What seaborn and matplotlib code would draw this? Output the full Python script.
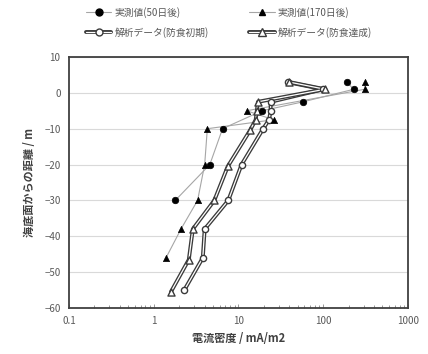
import matplotlib
matplotlib.use("Agg")
import matplotlib.pyplot as plt
import matplotlib.patheffects as pe
from matplotlib.lines import Line2D
import seaborn as sns
import pandas as pd
import numpy as np

sns.set_theme(style="white")
plt.rcParams['font.family'] = ['Noto Sans CJK JP', 'DejaVu Sans']

# Data (current density mA/m2, depth m)
m50_x = [190, 230, 58, 19, 6.5, 4.6, 1.8]
m50_y = [3, 1, -2.5, -5, -10, -20, -30]

m170_x = [310, 310, 12.5, 26, 4.3, 4.0, 3.3, 2.1, 1.4]
m170_y = [3, 1, -5, -7.5, -10, -20, -30, -38, -46]

a_init_x = [38, 100, 24, 24, 23, 19.6, 10.9, 7.6, 4.0, 3.8, 2.3]
a_init_y = [3, 1, -2.5, -5, -7.5, -10, -20, -30, -38, -46, -55]

a_done_x = [40, 105, 17, 16.5, 16, 13.7, 7.5, 5.2, 2.9, 2.6, 1.6]
a_done_y = [3, 1, -2.5, -5, -7.5, -10.5, -20.5, -30, -38, -46.5, -55.5]

labels = ["実測値(50日後)", "実測値(170日後)", "解析データ(防食初期)", "解析データ(防食達成)"]

fig = plt.figure(figsize=(4.28, 3.54), dpi=100)
ax = fig.add_axes([0.161, 0.130, 0.792, 0.709])

gray = "#a6a6a6"
dark = "#3a3a3a"

def line(xs, ys, **kw):
    df = pd.DataFrame({"x": xs, "y": ys})
    sns.lineplot(data=df, x="x", y="y", sort=False, estimator=None, ax=ax, **kw)

# measured series: thin gray lines, black markers
line(m50_x, m50_y, color=gray, lw=0.8, zorder=2)
line(m170_x, m170_y, color=gray, lw=0.8, zorder=2)

# analysis series: double lines
dbl = [pe.Stroke(linewidth=2.8, foreground=dark), pe.Normal()]
line(a_init_x, a_init_y, color="white", lw=0.9, zorder=3, path_effects=dbl)
line(a_done_x, a_done_y, color="white", lw=0.9, zorder=3, path_effects=dbl)

sns.scatterplot(x=a_init_x, y=a_init_y, marker="o", s=20, facecolor="white",
                edgecolor=dark, linewidth=1.0, ax=ax, zorder=4)
sns.scatterplot(x=a_done_x, y=a_done_y, marker="^", s=26, facecolor="white",
                edgecolor=dark, linewidth=1.0, ax=ax, zorder=4)
sns.scatterplot(x=m50_x, y=m50_y, marker="o", s=22, color="black",
                edgecolor="black", linewidth=0.5, ax=ax, zorder=5)
sns.scatterplot(x=m170_x, y=m170_y, marker="^", s=20, color="black",
                edgecolor="black", linewidth=0.5, ax=ax, zorder=5)

ax.set_xscale("log")
ax.set_xlim(0.1, 1000)
ax.set_ylim(-60, 10)
ax.set_yticks(np.arange(-60, 11, 10))
ax.set_xticks([0.1, 1, 10, 100, 1000])
ax.set_xticklabels(["0.1", "1", "10", "100", "1000"])
ax.grid(axis="y", color="#d9d9d9", lw=0.8)
ax.grid(axis="x", visible=False)
for s in ax.spines.values():
    s.set_color("#404040")
    s.set_linewidth(1.3)
ax.tick_params(axis="both", labelsize=7, colors="#595959", length=0, pad=6)
ax.tick_params(axis="x", which="minor", bottom=True, direction="in", length=2.5,
               color="#888888", width=0.6)
ax.tick_params(axis="x", which="major", bottom=True, direction="in", length=3,
               color="#888888", width=0.6)

ax.set_xlabel("電流密度 / mA/m2", fontsize=8, color="#404040", fontweight="bold", labelpad=4)
ax.set_ylabel("海底面からの距離 / m", fontsize=8, color="#404040", fontweight="bold", labelpad=6)

# legend (row-major: measured on first row, analysis on second)
h1 = Line2D([], [], color=gray, lw=0.8, marker="o", markersize=5,
            markerfacecolor="black", markeredgecolor="black")
h2 = Line2D([], [], color=gray, lw=0.8, marker="^", markersize=4.5,
            markerfacecolor="black", markeredgecolor="black")
l3 = Line2D([], [], color="white", lw=0.9, path_effects=dbl)
m3 = Line2D([], [], ls="none", marker="o", markersize=5, markerfacecolor="white",
            markeredgecolor=dark, markeredgewidth=1.0)
l4 = Line2D([], [], color="white", lw=0.9, path_effects=dbl)
m4 = Line2D([], [], ls="none", marker="^", markersize=5.5, markerfacecolor="white",
            markeredgecolor=dark, markeredgewidth=1.0)
leg = fig.legend([h1, (l3, m3), h2, (l4, m4)],
                 [labels[0], labels[2], labels[1], labels[3]],
                 ncol=2, frameon=False,
                 loc="upper center", bbox_to_anchor=(0.535, 1.005), fontsize=7,
                 handlelength=2.6, columnspacing=4.2, labelspacing=0.9,
                 handletextpad=0.3)
for t in leg.get_texts():
    t.set_color("#595959")

fig.savefig("out.png", dpi=100)
